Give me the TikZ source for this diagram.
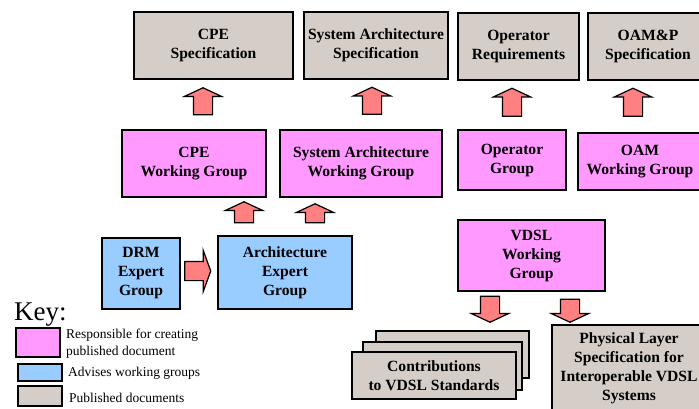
\documentclass[tikz,border=0pt]{standalone}
\usepackage{fontspec}
\setmainfont{LiberationSerif}[Extension=.ttf,UprightFont=*-Regular,BoldFont=*-Bold,ItalicFont=*-Italic,BoldItalicFont=*-BoldItalic]
\usetikzlibrary{shapes.arrows}
\definecolor{docgray}{RGB}{212,205,200}
\definecolor{wgpink}{RGB}{255,153,255}
\definecolor{egblue}{RGB}{153,204,255}
\definecolor{arrowred}{RGB}{255,128,128}

\begin{document}
\begin{tikzpicture}[x=1pt,y=-1pt,
  box/.style={draw,line width=1.4pt,align=center,inner sep=0pt,font=\fontsize{15.6}{19}\selectfont\bfseries},
  doc/.style={box,fill=docgray},
  wg/.style={box,fill=wgpink},
  eg/.style={box,fill=egblue},
  fat/.style={single arrow,draw,line width=1.2pt,fill=arrowred,inner xsep=0pt,inner ysep=9pt,minimum width=0pt,single arrow head extend=9pt,single arrow tip angle=130},
  keytext/.style={anchor=west,align=left,inner sep=0pt,font=\fontsize{13.5}{16.5}\selectfont}]
\clip (0,0) rectangle (699,408);

% published documents
\node[doc,minimum width=159pt,minimum height=67pt] (cpespec) at (213.5,45.5) {CPE\\Specification};
\node[doc,minimum width=144pt,minimum height=67pt] (sysspec) at (376,45.5) {System Architecture\\Specification};
\node[doc,minimum width=121pt,minimum height=67pt] (opreq) at (518.5,46.5) {Operator\\Requirements};
\node[doc,minimum width=120pt,minimum height=67pt] (oamspec) at (648,46.5) {OAM\&P\\Specification};

% working groups
\node[wg,minimum width=144pt,minimum height=67pt] (cpewg) at (194,163.5) {CPE\\Working Group};
\node[wg,minimum width=162pt,minimum height=67pt] (syswg) at (361,163.5) {System Architecture\\Working Group};
\node[wg,minimum width=108pt,minimum height=60pt] (opgroup) at (512,160) {Operator\\Group};
\node[wg,minimum width=124pt,minimum height=57pt] (oamwg) at (640,161.5) {OAM\\Working Group};

\node[fat,rotate=90,minimum height=27pt] (cpeup) at (203,103.5) {};
\node[fat,rotate=90,minimum height=27pt] (sysup) at (372,103) {};
\node[fat,rotate=90,minimum height=28pt] (opup) at (512,104.5) {};
\node[fat,rotate=90,minimum height=28pt] (oamup) at (633,104.5) {};

% expert groups
\node[eg,minimum width=78pt,minimum height=71pt] (drm) at (141,273.5) {DRM\\Expert\\Group};
\node[eg,minimum width=134pt,minimum height=73pt] (archeg) at (285,272.5) {Architecture\\Expert\\Group};
\node[fat,minimum height=26pt,single arrow head extend=11pt,single arrow tip angle=140] (drmright) at (196,271) {};
\node[fat,rotate=90,minimum height=21pt] (archcpe) at (244,214.5) {};
\node[fat,rotate=90,minimum height=19pt] (archsys) at (315,215.5) {};

% vdsl
\node[wg,minimum width=147pt,minimum height=71pt] (vdslwg) at (531.5,255.5) {VDSL\\Working\\Group};
\node[fat,rotate=-90,minimum height=26pt] (vdslcontrib) at (490,307) {};
\node[fat,rotate=-90,minimum height=23pt] (vdslphys) at (570,308.5) {};

\node[doc,minimum width=153pt,minimum height=47pt] (contrib3) at (452.5,354.5) {};
\node[doc,minimum width=159pt,minimum height=48pt] (contrib2) at (442.5,366) {};
\node[doc,minimum width=164pt,minimum height=47pt] (contrib) at (434,375.5) {Contributions\\to VDSL Standards};
\node[doc,minimum width=154pt,minimum height=87pt] (phys) at (629,368.5) {Physical Layer\\Specification for\\Interoperable VDSL\\Systems};

% key
\node[anchor=base west,inner sep=0pt,font=\fontsize{27}{27}\selectfont] (key) at (14,320) {Key:};
\node[wg,minimum width=44pt,minimum height=29pt] (keywg) at (38,342.5) {};
\node[eg,minimum width=44pt,minimum height=17pt] (keyeg) at (40,372.5) {};
\node[doc,minimum width=44pt,minimum height=20pt] (keydoc) at (40,396) {};
\node[keytext] (keywgtext) at (66,343.5) {Responsible for creating\\published document};
\node[keytext] (keyegtext) at (68,373) {Advises working groups};
\node[keytext] (keydoctext) at (69,398) {Published documents};
\end{tikzpicture}
\end{document}
